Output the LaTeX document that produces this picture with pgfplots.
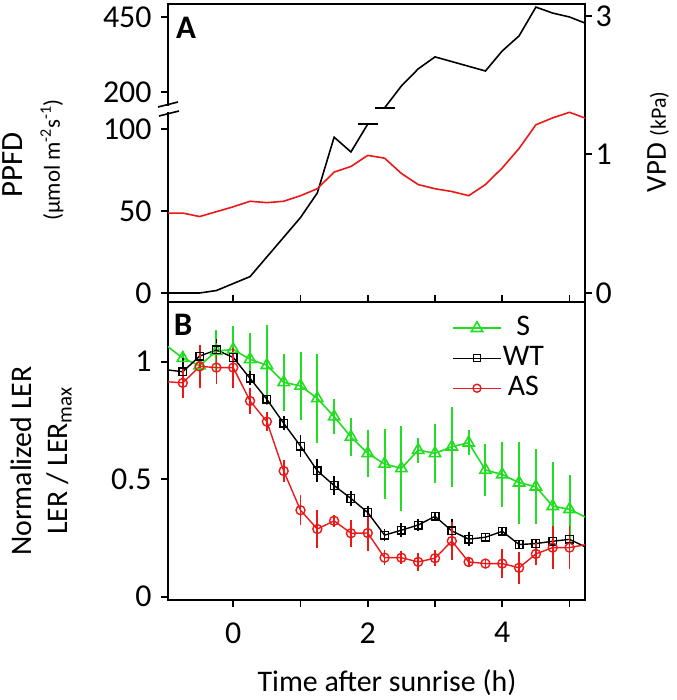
\documentclass[border=0pt]{standalone}
\usepackage{fontspec}
\setmainfont{Carlito}
\usepackage{pgfplots}
\pgfplotsset{compat=1.18}
\usepackage{pgfplotstable}

\definecolor{sgreen}{RGB}{34,221,34}
\definecolor{asred}{RGB}{236,24,24}

% PPFD (black), lower segment of broken axis
\pgfplotstableread{
x y
-1.0 0
-0.5 0
-0.25 1.5
0.25 10
1.0 46
1.25 61
1.5 95
1.75 86
2.0 103
}\ppfdlow
% PPFD, upper segment of broken axis
\pgfplotstableread{
x y
2.25 147
2.5 220
2.75 277
3.0 317
3.75 270
4.0 337
4.25 387
4.5 483
4.75 463
5.0 450
5.25 428
}\ppfdhigh
% VPD (red)
\pgfplotstableread{
x y
-1.0 0.575
-0.75 0.575
-0.5 0.55
0 0.62
0.25 0.66
0.5 0.65
0.75 0.66
1.0 0.70
1.25 0.75
1.5 0.87
1.75 0.91
2.0 0.99
2.25 0.97
2.5 0.86
2.75 0.78
3.0 0.75
3.25 0.73
3.5 0.70
3.75 0.78
4.0 0.90
4.25 1.04
4.5 1.21
4.75 1.26
5.0 1.30
5.25 1.255
}\vpd

\pgfplotstableread{
x y e
-1.0 1.07 0
-0.75 1.015 0.03
-0.5 0.983 0.03
-0.25 1.045 0.09
0 1.052 0.10
0.25 1.01 0.11
0.5 0.985 0.17
0.75 0.912 0.12
1.0 0.897 0.145
1.25 0.844 0.19
1.5 0.766 0.075
1.75 0.68 0.082
2.0 0.61 0.10
2.25 0.565 0.15
2.5 0.546 0.18
2.75 0.624 0.053
3.0 0.61 0.125
3.25 0.638 0.17
3.5 0.655 0.053
3.75 0.539 0.11
4.0 0.52 0.14
4.25 0.485 0.175
4.5 0.468 0.16
4.75 0.385 0.19
5.0 0.372 0.145
5.25 0.337 0
}\Sdata

\pgfplotstableread{
x y e
-1.0 0.966 0
-0.75 0.957 0.06
-0.5 1.024 0.03
-0.25 1.05 0.045
0 1.018 0.03
0.25 0.929 0.03
0.5 0.84 0.02
0.75 0.738 0.03
1.0 0.641 0.046
1.25 0.536 0.05
1.5 0.473 0.04
1.75 0.418 0.03
2.0 0.358 0.028
2.25 0.262 0.025
2.5 0.283 0.03
2.75 0.305 0.025
3.0 0.342 0.02
3.25 0.28 0.05
3.5 0.245 0.03
3.75 0.253 0.02
4.0 0.278 0.02
4.25 0.222 0.02
4.5 0.226 0.02
4.75 0.236 0.02
5.0 0.244 0.025
5.25 0.21 0
}\WTdata

\pgfplotstableread{
x y e
-1.0 0.915 0
-0.75 0.91 0.065
-0.5 0.98 0.09
-0.25 0.975 0.07
0 0.975 0.085
0.25 0.833 0.057
0.5 0.745 0.04
0.75 0.535 0.047
1.0 0.368 0.064
1.25 0.288 0.082
1.5 0.323 0.025
1.75 0.27 0.057
2.0 0.271 0.078
2.25 0.166 0.032
2.5 0.166 0.028
2.75 0.148 0.04
3.0 0.164 0.035
3.25 0.237 0.082
3.5 0.148 0.02
3.75 0.141 0.015
4.0 0.141 0.06
4.25 0.123 0.068
4.5 0.182 0.046
4.75 0.209 0.093
5.0 0.209 0.093
5.25 0.222 0
}\ASdata

\pgfplotsset{
  base/.style={
    scale only axis, width=417bp, height=298bp,
    xmin=-0.97, xmax=5.23, anchor=south west,
    axis line style={line width=1.8bp},
    tick style={line width=1.8bp, black},
    major tick length=7bp, tick align=outside,
    tick label style={font=\fontsize{32}{38}\selectfont},
    /pgf/number format/assume math mode=true,
  },
}

\begin{document}
\begin{tikzpicture}
\useasboundingbox (0,0) rectangle (677bp,700bp);

% ---------- Panel A, left axis: PPFD (broken) ----------
\begin{axis}[base, at={(168bp,398bp)},
  ymin=0, ymax=298, xtick=\empty,
  ytick={9,91,173,210,285}, yticklabels={0,50,100,200,450},
  ytick pos=left, yticklabel style={xshift=-6bp}]
\addplot[black, line width=1.6bp,
  y filter/.expression={9+1.64*y}] table[x=x,y=y] {\ppfdlow};
\addplot[black, only marks, mark=-, mark size=10bp, mark options={line width=1.6bp},
  restrict x to domain=1.9:2.1,
  y filter/.expression={9+1.64*y}] table[x=x,y=y] {\ppfdlow};
\addplot[black, line width=1.6bp,
  y filter/.expression={210+0.3*(y-200)}] table[x=x,y=y] {\ppfdhigh};
\addplot[black, only marks, mark=-, mark size=10bp, mark options={line width=1.6bp},
  restrict x to domain=2.2:2.3,
  y filter/.expression={210+0.3*(y-200)}] table[x=x,y=y] {\ppfdhigh};
\end{axis}

% ---------- Panel A, right axis: VPD ----------
\begin{axis}[base, at={(168bp,398bp)},
  ymin=-0.0647, ymax=2.079, axis x line=none, axis y line*=right,
  ytick={0,1,1.993}, yticklabels={0,1,3}]
\addplot[asred, line width=1.6bp] table[x=x,y=y] {\vpd};
\end{axis}

% ---------- Panel B ----------
\begin{axis}[base, at={(168bp,100bp)},
  ymin=-0.014, ymax=1.254,
  xtick={0,1,2,3,4,5}, xticklabels={0,,2,,4,},
  ytick={0,0.5,1}, yticklabels={0,0.5,1},
  xtick pos=both, ytick pos=left,
  yticklabel style={xshift=-6bp},
  xticklabel style={yshift=-12bp},
  legend style={at={(0.681,0.958)}, anchor=north west, draw=none, fill=none,
    font=\fontsize{30}{36}\selectfont, row sep=3bp, inner sep=0pt,
    nodes={inner sep=1bp, text height=20bp, text depth=5bp},
    /tikz/every even column/.append style={column sep=9bp}},
  legend cell align=center,
  legend image code/.code={\draw[mark repeat=2,mark phase=2,#1] plot coordinates {(0bp,0bp) (24bp,0bp) (48bp,0bp)};},
]
\addlegendimage{sgreen, line width=1.6bp, mark=triangle, mark size=6.5bp, mark options={line width=1.6bp}}
\addlegendentry{S}
\addlegendimage{black, line width=1.4bp, mark=square, mark size=3.5bp, mark options={line width=1.4bp}}
\addlegendentry{WT}
\addlegendimage{asred, line width=1.4bp, mark=o, mark size=4bp, mark options={line width=1.4bp}}
\addlegendentry{AS}

% S
\addplot[sgreen, line width=1.6bp, forget plot] table[x=x,y=y] {\Sdata};
\addplot[sgreen, only marks, mark=triangle, mark size=6.5bp, mark options={line width=1.6bp},
  restrict x to domain=-0.9:5.1, forget plot,
  error bars/.cd, y dir=both, y explicit, error mark=none,
  error bar style={line width=2bp, sgreen}]
  table[x=x,y=y,y error=e] {\Sdata};
% WT
\addplot[black, line width=1.4bp, forget plot] table[x=x,y=y] {\WTdata};
\addplot[black, only marks, mark=square, mark size=3.8bp, mark options={line width=1.4bp},
  restrict x to domain=-0.9:5.1, forget plot,
  error bars/.cd, y dir=both, y explicit, error mark=none,
  error bar style={line width=1.8bp, black}]
  table[x=x,y=y,y error=e] {\WTdata};
% AS
\addplot[asred, line width=1.4bp, forget plot] table[x=x,y=y] {\ASdata};
\addplot[asred, only marks, mark=o, mark size=4.5bp, mark options={line width=1.4bp},
  restrict x to domain=-0.9:5.1, forget plot,
  error bars/.cd, y dir=both, y explicit, error mark=none,
  error bar style={line width=1.8bp, asred}]
  table[x=x,y=y,y error=e] {\ASdata};
\end{axis}

% axis break on PPFD axis
\draw[white, line width=5bp] (168bp,588bp) -- (168bp,594bp);
\draw[black, line width=1.6bp] (158bp,593bp) -- (178bp,598bp);
\draw[black, line width=1.6bp] (159bp,584bp) -- (179bp,589bp);

% labels
\node[rotate=90, font=\fontsize{31}{36}\selectfont] at (13bp,535bp) {PPFD};
\node[rotate=90, font=\fontsize{23}{28}\selectfont] at (52bp,540bp) {(µmol m\textsuperscript{-2}s\textsuperscript{-1})};
\node[rotate=90, font=\fontsize{29}{34}\selectfont] at (658bp,558bp) {VPD {\fontsize{22}{26}\selectfont(kPa)}};
\node[font=\bfseries\fontsize{33}{38}\selectfont] at (186bp,672bp) {A};
\node[font=\bfseries\fontsize{33}{38}\selectfont] at (183bp,375bp) {B};
\node[rotate=90, align=center, font=\fontsize{30}{37}\selectfont] at (41bp,239bp) {Normalized LER\\LER / LER\textsubscript{max}};
\node[font=\fontsize{30}{36}\selectfont] at (387bp,17bp) {Time after sunrise (h)};
\end{tikzpicture}
\end{document}
